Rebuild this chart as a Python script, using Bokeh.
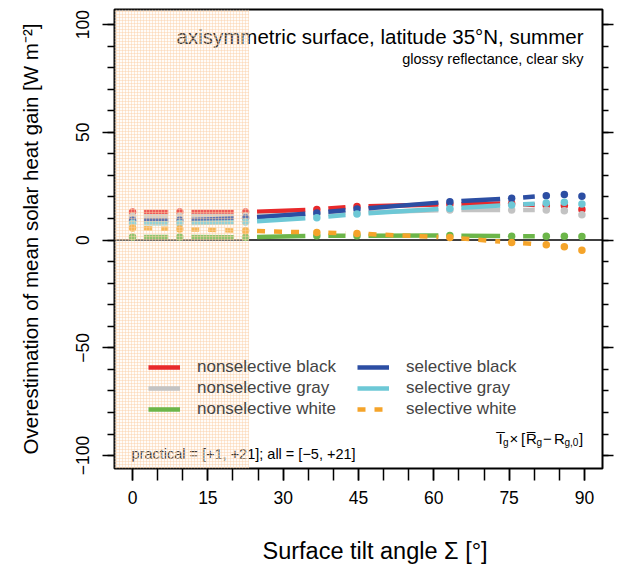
import numpy as np
from bokeh.plotting import figure
from bokeh.models import (Range1d, LinearAxis, FixedTicker, Label, Span, Title,
                          BoxAnnotation, Legend, LegendItem, ColumnDataSource)
from bokeh.embed import file_html
from bokeh.resources import INLINE

# ---------------- data ----------------
tilt = [0.0, 9.4, 22.5, 36.7, 44.7, 63.2, 75.5, 82.4, 86.0, 89.5]
nonsel_black = [13.0, 13.0, 13.0, 14.2, 15.6, 16.6, 17.0, 16.0, 16.0, 14.2]
nonsel_gray = [11.1, 11.1, 11.2, 12.0, 12.8, 14.0, 14.0, 14.0, 13.6, 11.8]
nonsel_white = [1.4, 1.4, 1.3, 2.0, 2.0, 2.1, 1.8, 1.8, 1.8, 1.7]
sel_black = [9.2, 9.2, 10.2, 12.6, 14.4, 17.8, 19.4, 20.6, 21.1, 20.3]
sel_gray = [7.8, 7.8, 8.4, 10.4, 12.1, 14.7, 16.3, 17.2, 17.5, 16.7]
sel_white = [5.6, 5.1, 4.3, 3.5, 3.0, 1.2, -1.1, -2.2, -3.1, -4.7]

series_names = ["nonselective black", "nonselective gray", "nonselective white",
                "selective black", "selective gray", "selective white"]
series_values = [nonsel_black, nonsel_gray, nonsel_white,
                 sel_black, sel_gray, sel_white]
series_colors = ["#e8292b", "#c3c3c3", "#6cb64a", "#2c4ea3", "#6dc8d6", "#f5a42a"]
series_dash = ["solid", "solid", "solid", "solid", "solid", "8 9"]

practical_max_tilt = 23.2
x_ticks = [0, 15, 30, 45, 60, 75, 90]
y_ticks = [-100, -50, 0, 50, 100]

title_text = "axisymmetric surface, latitude 35°N, summer"
subtitle_text = "glossy reflectance, clear sky"
range_text = "practical = [+1, +21]; all = [\u22125, +21]"
x_label_text = "Surface tilt angle \u03a3 [\u00b0]"
y_label_text = "Overestimation of mean solar heat gain [W m\u207b\u00b2]"

FONT = "Liberation Sans"

# ---------------- figure ----------------
x0, x1 = -3.6, 93.6
y0, y1 = -106.0, 107.0
p = figure(width=618, height=568, output_backend="svg", toolbar_location=None,
           x_range=Range1d(x0, x1), y_range=Range1d(y0, y1),
           min_border_left=114, min_border_right=16, min_border_top=9,
           min_border_bottom=100, background_fill_color="white",
           border_fill_color="white")
p.grid.visible = False
p.outline_line_color = "black"
p.outline_line_width = 2

# axes
p.xaxis.ticker = FixedTicker(ticks=x_ticks, minor_ticks=list(range(0, 91, 5)))
p.yaxis.ticker = FixedTicker(ticks=y_ticks, minor_ticks=list(range(-100, 101, 10)))
for ax in (p.xaxis[0], p.yaxis[0]):
    ax.axis_line_color = None
    ax.major_tick_in = 0
    ax.minor_tick_in = 0
    ax.major_tick_line_color = "black"
    ax.minor_tick_line_color = "black"
    ax.major_tick_line_width = 1.5
    ax.minor_tick_line_width = 1.5
    ax.major_label_text_font = FONT
    ax.major_label_text_font_size = "17.5px"
    ax.major_label_text_color = "black"
    ax.axis_label_text_font = FONT
    ax.axis_label_text_font_style = "normal"
    ax.axis_label_text_color = "black"

p.xaxis.major_tick_out = 12
p.xaxis.minor_tick_out = 12
p.xaxis.major_label_standoff = 10
# blank spacer so that the x title below sits where it does in the reference
p.xaxis.axis_label = "\u00a0"
p.xaxis.axis_label_text_font_size = "12px"
p.xaxis.axis_label_standoff = 12

p.yaxis.major_tick_out = 12
p.yaxis.minor_tick_out = 7
p.yaxis.major_label_orientation = "vertical"
p.yaxis.major_label_standoff = 13
p.yaxis.major_label_overrides = {v: str(v).replace("-", "\u2212") for v in y_ticks}
p.yaxis.axis_label = y_label_text
p.yaxis.axis_label_text_font_size = "20.5px"
p.yaxis.axis_label_standoff = 32

right_ax = LinearAxis(ticker=FixedTicker(ticks=y_ticks, minor_ticks=list(range(-100, 101, 10))),
                      axis_line_color=None, major_tick_in=0, minor_tick_in=0,
                      major_tick_out=11, minor_tick_out=6,
                      major_tick_line_width=1.5, minor_tick_line_width=1.5,
                      major_label_text_font_size="0px", major_label_text_alpha=0)
p.add_layout(right_ax, "right")

# x-axis title (as in the reference, slightly right of the frame centre)
p.add_layout(Title(text=x_label_text, align="left", offset=148, standoff=0,
                   text_font=FONT, text_font_size="23.5px",
                   text_font_style="normal", text_color="black"), "below")

# zero line
p.add_layout(Span(location=0, dimension="width", line_color="black",
                  line_width=1.5, level="underlay"))

# ---------------- series: R type "b" (points, lines with gaps) ----------------
px_per_x = 488.0 / (x1 - x0)
gap = 11.5 / px_per_x

items_ns, items_s = [], []
for k, (name, vals, col, dash) in enumerate(zip(series_names, series_values,
                                                 series_colors, series_dash)):
    xs0, ys0, xs1, ys1 = [], [], [], []
    for i in range(len(tilt) - 1):
        xa, xb = tilt[i], tilt[i + 1]
        ya, yb = vals[i], vals[i + 1]
        if xb - xa > 2 * gap:
            sa = xa + gap
            sb = xb - gap
            xs0.append(sa)
            xs1.append(sb)
            ys0.append(ya + (yb - ya) * (sa - xa) / (xb - xa))
            ys1.append(ya + (yb - ya) * (sb - xa) / (xb - xa))
    src = ColumnDataSource(dict(x0=xs0, y0=ys0, x1=xs1, y1=ys1))
    seg = p.segment("x0", "y0", "x1", "y1", source=src, line_color=col,
                    line_width=4.5, line_dash=dash, line_cap="butt")
    p.scatter(tilt, vals, marker="circle", size=7.5, fill_color=col,
              line_color=None)
    (items_ns if k < 3 else items_s).append(LegendItem(label=name, renderers=[seg]))

legend_style = dict(background_fill_alpha=0, border_line_color=None,
                    label_text_font=FONT, label_text_font_size="17px",
                    label_standoff=17, glyph_width=32, glyph_height=20,
                    label_height=20, spacing=1, padding=0, margin=0)
p.add_layout(Legend(items=items_ns, location=(34, 49), **legend_style), "center")
p.add_layout(Legend(items=items_s, location=(243, 49), **legend_style), "center")

# ---------------- annotations ----------------
p.add_layout(Label(x=x1, y=y1, x_offset=-19, y_offset=-27, text=title_text,
                   text_align="right", text_baseline="middle",
                   text_font=FONT, text_font_size="20.5px", text_color="black"))
p.add_layout(Label(x=x1, y=y1, x_offset=-19, y_offset=-49, text=subtitle_text,
                   text_align="right", text_baseline="middle",
                   text_font=FONT, text_font_size="14.5px", text_color="black"))
p.add_layout(Label(x=x0, y=y0, x_offset=17, y_offset=15, text=range_text,
                   text_align="left", text_baseline="middle",
                   text_font=FONT, text_font_size="14.5px", text_color="black"))

# formula  I̅g × [R̅g − Rg,0]  built from pieces (main 15px, subscripts 10px)
pieces = [("I\u0305", 15, 0, 4.5), ("g", 10, -4, 6.5), ("\u00d7", 15, 0, 11.5),
          ("[", 15, 0, 5.0), ("R\u0305", 15, 0, 10.5), ("g", 10, -4, 6.5),
          ("\u2212", 15, 0, 11.0), ("R", 15, 0, 10.5), ("g,0", 10, -4, 14.5),
          ("]", 15, 0, 4.5)]
total_w = sum(w for _, _, _, w in pieces)
xo = -19 - total_w
for txt, fs, dy, w in pieces:
    p.add_layout(Label(x=x1, y=y0, x_offset=xo, y_offset=30 + dy, text=txt,
                       text_align="left", text_baseline="middle",
                       text_font=FONT, text_font_size=f"{fs}px", text_color="black"))
    xo += w

# hatched "practical" region drawn on top of everything
p.add_layout(BoxAnnotation(left=x0, right=practical_max_tilt, fill_color="#fff3e6",
                           fill_alpha=0.25, line_color=None, hatch_pattern="+",
                           hatch_scale=3, hatch_weight=1, hatch_color="#fbcfa5",
                           hatch_alpha=0.45, level="overlay"))

open("out.html", "w").write(file_html(p, INLINE))
